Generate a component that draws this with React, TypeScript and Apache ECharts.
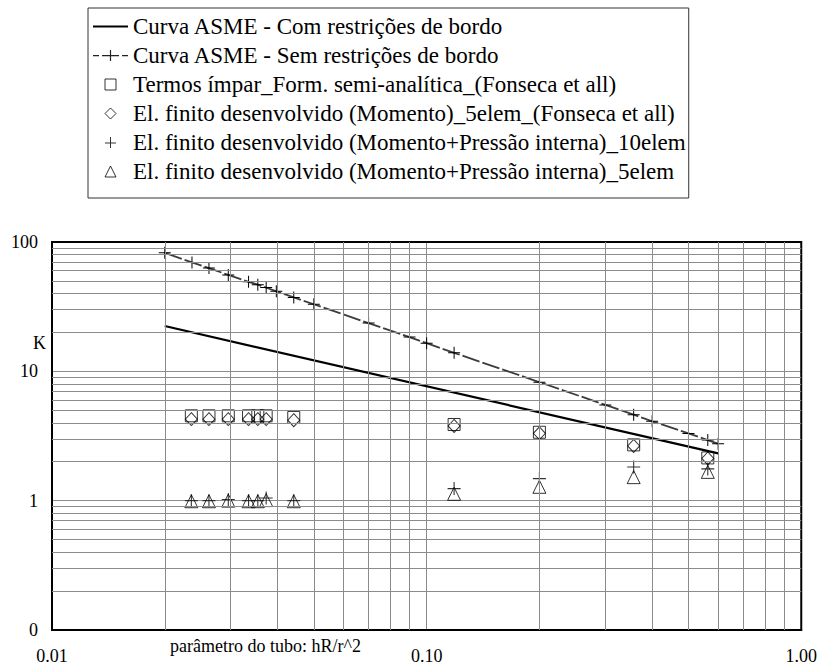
import React, { useEffect, useRef } from "react";
import * as echarts from "echarts";

// ---- tick labels ----
const xTickValues = [0.01, 0.1, 1];
const xTickLabels = ["0.01", "0.10", "1.00"];
const yTickValues = [0.1, 1, 10, 100];
const yTickLabels = ["0", "1", "10", "100"];

// ---- series names ----
const seriesNames = [
  "Curva ASME - Com restrições de bordo",
  "Curva ASME - Sem restrições de bordo",
  "Termos ímpar_Form. semi-analítica_(Fonseca et all)",
  "El. finito desenvolvido (Momento)_5elem_(Fonseca et all)",
  "El. finito desenvolvido (Momento+Pressão interna)_10elem",
  "El. finito desenvolvido (Momento+Pressão interna)_5elem",
];

// ---- ASME curve with end restrictions (solid) ----
const asmeComX = [0.02, 0.6];
const asmeComY = [22.4, 2.32];

// ---- ASME curve without end restrictions (dashed with + markers) ----
const asmeSemX = [0.02, 0.02364, 0.02624, 0.02955, 0.03347, 0.03543, 0.0373, 0.0397, 0.04419, 0.05, 0.07, 0.09, 0.1, 0.1184, 0.2, 0.3, 0.357, 0.4, 0.5, 0.563, 0.6];
const asmeSemY = [82.5, 69.5, 62.9, 55.6, 49.2, 46.8, 44.4, 41.6, 37.3, 33.0, 23.6, 18.4, 16.5, 13.9, 8.25, 5.5, 4.62, 4.11, 3.31, 2.94, 2.75];

// ---- point series (shared x) ----
const pointX = [0.02355, 0.02624, 0.02955, 0.03347, 0.03543, 0.0373, 0.04419, 0.1184, 0.2, 0.357, 0.563];
const termosY = [4.53, 4.53, 4.53, 4.53, 4.53, 4.53, 4.4, 3.88, 3.38, 2.7, 2.14];
const momentoY = [4.27, 4.27, 4.27, 4.27, 4.27, 4.27, 4.19, 3.78, 3.32, 2.65, 2.12];
const pressao10Y = [1.0, 1.0, 1.02, 1.0, 1.0, 1.05, 1.0, 1.24, 1.48, 1.82, 1.76];
const pressao5Y = [0.99, 0.99, 1.0, 0.99, 0.99, 1.01, 0.99, 1.13, 1.28, 1.52, 1.67];

const FONT = "'Liberation Serif', 'Times New Roman', serif";
const PLUS = "path://M0,5.5H12V6.5H0ZM5.5,0H6.5V12H5.5Z";

// legend icons
const ICON_LINE = "path://M0,0H35V2.2H0Z";
const ICON_DASH_PLUS =
  "path://M0,5H6V6.3H0ZM9,5H26V6.3H9ZM16.9,0H18.1V11H16.9ZM29,5H35V6.3H29Z";
const ICON_SQUARE = "path://M0,0H10V10H0Z";
const ICON_DIAMOND = "path://M5,0L10,5L5,10L0,5Z";
const ICON_PLUS = "path://M0,5.5H11V6.5H0ZM5,0H6V11H5Z";
const ICON_TRIANGLE = "path://M5,0L10,10H0Z";

const zip = (xs: number[], ys: number[]) => xs.map((x, i) => [x, ys[i]]);

const lookup = (vals: number[], labels: string[]) => (v: number) => {
  const i = vals.findIndex((t) => Math.abs(Math.log10(t) - Math.log10(v)) < 1e-6);
  return i >= 0 ? labels[i] : "";
};

// minor grid positions (structural, 2..9 per decade)
const minorX: number[] = [];
[0.01, 0.1].forEach((d) => {
  for (let k = 2; k <= 9; k++) minorX.push(+(k * d).toFixed(4));
});
const minorY: number[] = [];
[0.1, 1, 10].forEach((d) => {
  for (let k = 2; k <= 9; k++) minorY.push(+(k * d).toFixed(4));
});

export default function App() {
  const ref = useRef<HTMLDivElement>(null);
  useEffect(() => {
    document.body.style.margin = "0";
    const chart = echarts.init(ref.current!, undefined, { renderer: "svg" });
    const hollow = { color: "rgba(0,0,0,0)", borderColor: "#000", borderWidth: 1 };
    const solid = { color: "#000", borderWidth: 0 };
    const legendIcons = [ICON_LINE, ICON_DASH_PLUS, ICON_SQUARE, ICON_DIAMOND, ICON_PLUS, ICON_TRIANGLE];
    const legendStyles = [solid, { color: "#222", borderWidth: 0 }, hollow, hollow, solid, hollow];
    chart.setOption({
      animation: false,
      backgroundColor: "#fff",
      textStyle: { fontFamily: FONT },
      grid: {
        left: 52,
        top: 242,
        width: 751,
        height: 390,
        show: true,
        borderColor: "#000",
        borderWidth: 2,
        backgroundColor: "rgba(0,0,0,0)",
        z: 5,
      },
      legend: {
        orient: "vertical",
        left: 88,
        top: 8,
        padding: [4, 3, 12, 5],
        itemWidth: 35,
        itemHeight: 11,
        itemGap: 0,
        symbolKeepAspect: true,
        borderColor: "#333",
        borderWidth: 1,
        selectedMode: false,
        textStyle: { fontFamily: FONT, fontSize: 23, color: "#000", lineHeight: 29 },
        data: seriesNames.map((name, i) => ({
          name,
          icon: legendIcons[i],
          itemStyle: legendStyles[i],
        })),
      },
      xAxis: {
        type: "log",
        logBase: 10,
        min: 0.01,
        max: 1,
        axisLine: { show: true, lineStyle: { color: "#000", width: 2 } },
        axisTick: { show: false },
        axisLabel: {
          fontFamily: FONT,
          fontSize: 18,
          color: "#000",
          margin: 17,
          formatter: lookup(xTickValues, xTickLabels),
        },
        splitLine: { show: true, lineStyle: { color: "#8c8c8c", width: 1 } },
      },
      yAxis: {
        type: "log",
        logBase: 10,
        min: 0.1,
        max: 100,
        axisLine: { show: true, lineStyle: { color: "#000", width: 2 } },
        axisTick: { show: false },
        axisLabel: {
          fontFamily: FONT,
          fontSize: 18,
          color: "#000",
          margin: 14,
          formatter: lookup(yTickValues, yTickLabels),
        },
        splitLine: { show: true, lineStyle: { color: "#8c8c8c", width: 1 } },
      },
      graphic: [
        {
          type: "text",
          left: 33,
          top: 334,
          style: { text: "K", fontFamily: FONT, fontSize: 18, fill: "#000" },
        },
        {
          type: "text",
          left: 170,
          top: 637,
          style: { text: "parâmetro do tubo: hR/r^2", fontFamily: FONT, fontSize: 18, fill: "#000" },
        },
      ],
      series: [
        {
          name: "gridlines",
          type: "line",
          data: zip(asmeComX, asmeComY),
          symbol: "none",
          lineStyle: { opacity: 0, width: 0 },
          silent: true,
          z: 1,
          markLine: {
            silent: true,
            symbol: ["none", "none"],
            label: { show: false },
            lineStyle: { color: "#8c8c8c", width: 1, type: "solid" },
            emphasis: { disabled: true },
            data: [
              ...minorX.map((v) => ({ xAxis: v })),
              ...minorY.map((v) => ({ yAxis: v })),
            ],
          },
        },
        {
          name: seriesNames[0],
          type: "line",
          data: zip(asmeComX, asmeComY),
          symbol: "none",
          lineStyle: { color: "#000", width: 2.2 },
          itemStyle: { color: "#000" },
          z: 3,
        },
        {
          name: seriesNames[1],
          type: "line",
          data: zip(asmeSemX, asmeSemY),
          symbol: PLUS,
          symbolSize: 12,
          showAllSymbol: true,
          lineStyle: { color: "#3c3c3c", width: 1.8, type: [18, 3] },
          itemStyle: { color: "#000" },
          z: 3,
        },
        {
          name: seriesNames[2],
          type: "scatter",
          data: zip(pointX, termosY),
          symbol: "rect",
          symbolSize: 12,
          itemStyle: hollow,
          z: 3,
        },
        {
          name: seriesNames[3],
          type: "scatter",
          data: zip(pointX, momentoY),
          symbol: "diamond",
          symbolSize: [12, 13],
          itemStyle: hollow,
          z: 3,
        },
        {
          name: seriesNames[4],
          type: "scatter",
          data: zip(pointX, pressao10Y),
          symbol: PLUS,
          symbolSize: 13,
          itemStyle: { color: "#000" },
          z: 3,
        },
        {
          name: seriesNames[5],
          type: "scatter",
          data: zip(pointX, pressao5Y),
          symbol: "triangle",
          symbolSize: 13,
          itemStyle: hollow,
          z: 3,
        },
      ],
    });
    return () => chart.dispose();
  }, []);
  return (
    <div
      ref={ref}
      style={{ position: "absolute", left: 0, top: 0, width: 820, height: 665 }}
    />
  );
}
